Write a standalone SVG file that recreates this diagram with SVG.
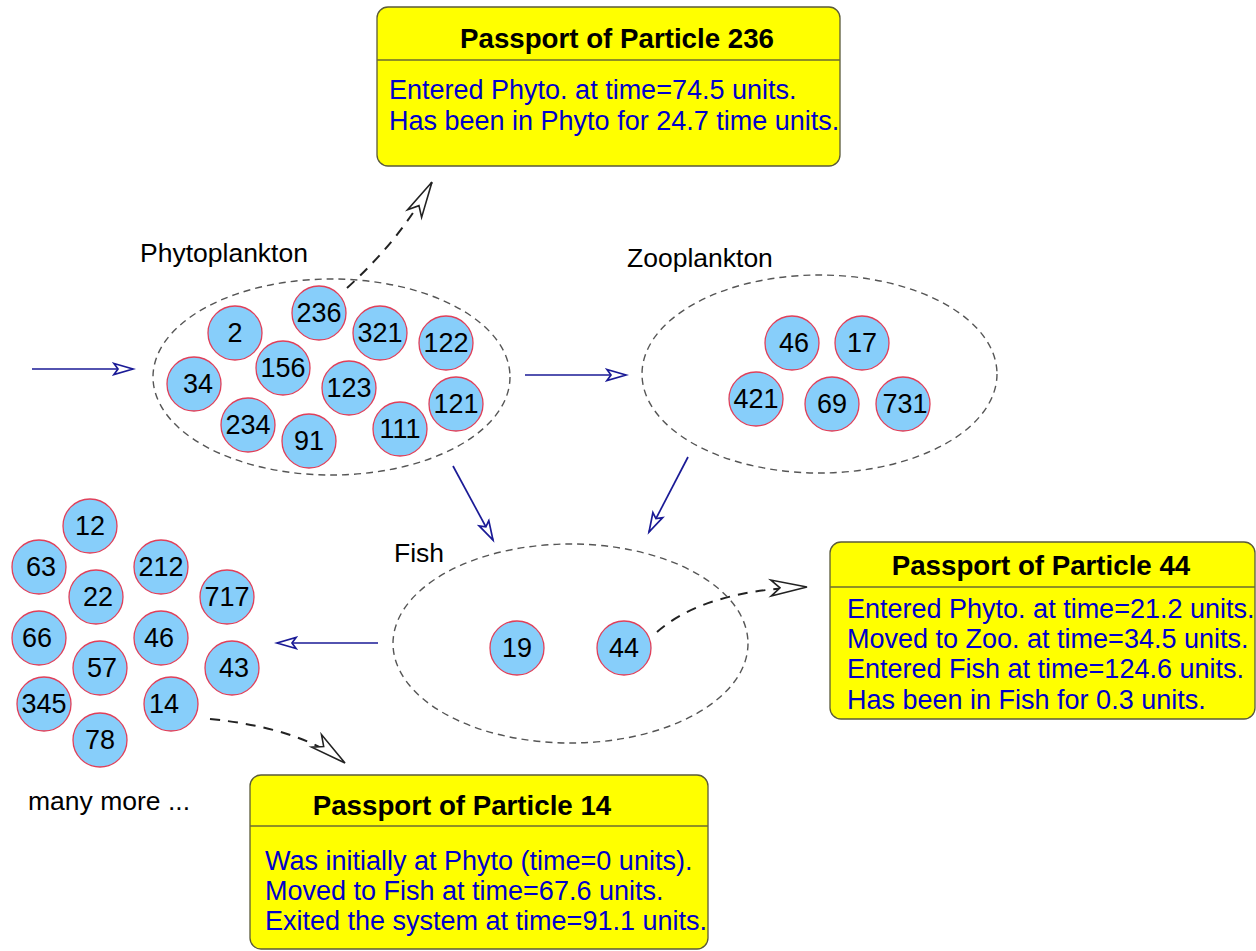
<svg xmlns="http://www.w3.org/2000/svg" width="1256" height="951" viewBox="0 0 1256 951">
<style>
.bg{fill:#ffffff}
.box{fill:#ffff00;stroke:#5a5a3a;stroke-width:1.3}
.div{stroke:#6b6b30;stroke-width:1.3}
.title{font-family:"Liberation Sans",Arial,sans-serif;font-weight:bold;font-size:27.7px;fill:#000;text-anchor:middle}
.body{font-family:"Liberation Sans",Arial,sans-serif;font-size:27px;fill:#0000cc}
.lbl{font-family:"Liberation Sans",Arial,sans-serif;font-size:26.5px;fill:#000}
.comp{fill:none;stroke:#555;stroke-width:1.4;stroke-dasharray:7 5}
.pc{fill:#87cefa;stroke:#e0405a;stroke-width:1.3}
.pt{font-family:"Liberation Sans",Arial,sans-serif;font-size:27px;fill:#000;text-anchor:middle}
.flow{fill:none;stroke:#1a1a96;stroke-width:1.7;marker-end:url(#blueHead)}
.link{fill:none;stroke:#222;stroke-width:2;stroke-dasharray:10 8;marker-end:url(#blackHead)}
</style>
<defs>
<marker id="blueHead" markerWidth="24" markerHeight="16" refX="21" refY="8" orient="auto" markerUnits="userSpaceOnUse">
<path d="M2,2.5 L21,8 L2,13.5 L6,8 Z" fill="#ffffff" stroke="#1a1a96" stroke-width="1.7" stroke-dasharray="none"/>
</marker>
<marker id="blackHead" markerWidth="42" markerHeight="22" refX="39" refY="11" orient="auto" markerUnits="userSpaceOnUse">
<path d="M39,11 L3,3 L12,11 L3,19 Z" fill="#ffffff" stroke="#222" stroke-width="1.6" stroke-dasharray="none"/>
</marker>
</defs>
<rect class="bg" x="0" y="0" width="1256" height="951"/>

<g id="connectors">
<line class="flow" x1="32" y1="369" x2="133" y2="369"/>
<line class="flow" x1="525" y1="375" x2="626" y2="375"/>
<line class="flow" x1="453" y1="466" x2="493" y2="540"/>
<line class="flow" x1="688" y1="457" x2="649" y2="532"/>
<line class="flow" x1="378" y1="643" x2="277" y2="643"/>
<path class="link" d="M347,288 Q400,240 432,182"/>
<path class="link" d="M657,632 Q705,590 807,587"/>
<path class="link" d="M210,719 Q300,728 345,763"/>
</g>

<g id="phytoplankton">
<ellipse class="comp" cx="331.5" cy="377" rx="178.5" ry="98"/>
<text class="lbl" x="140" y="262">Phytoplankton</text>
</g>
<g id="zooplankton">
<ellipse class="comp" cx="819.5" cy="374" rx="177.5" ry="99"/>
<text class="lbl" x="627" y="267">Zooplankton</text>
</g>
<g id="fish">
<ellipse class="comp" cx="570.5" cy="643.5" rx="177.5" ry="99.5"/>
<text class="lbl" x="394" y="562">Fish</text>
</g>
<g id="exited">
<text class="lbl" x="28" y="810">many more ...</text>
</g>

<g id="p-2"><circle class="pc" cx="235" cy="333" r="27"/><text class="pt" x="235" y="342">2</text></g>
<g id="p-236"><circle class="pc" cx="319" cy="313" r="27"/><text class="pt" x="319" y="322">236</text></g>
<g id="p-321"><circle class="pc" cx="380" cy="333" r="27"/><text class="pt" x="380" y="342">321</text></g>
<g id="p-122"><circle class="pc" cx="446" cy="343" r="27"/><text class="pt" x="446" y="352">122</text></g>
<g id="p-34"><circle class="pc" cx="194" cy="384" r="27"/><text class="pt" x="198" y="393">34</text></g>
<g id="p-156"><circle class="pc" cx="283" cy="368" r="27"/><text class="pt" x="283" y="377">156</text></g>
<g id="p-123"><circle class="pc" cx="349" cy="388" r="27"/><text class="pt" x="349" y="397">123</text></g>
<g id="p-121"><circle class="pc" cx="456" cy="404" r="27"/><text class="pt" x="456" y="413">121</text></g>
<g id="p-234"><circle class="pc" cx="248" cy="425" r="27"/><text class="pt" x="248" y="434">234</text></g>
<g id="p-91"><circle class="pc" cx="309" cy="441" r="27"/><text class="pt" x="309" y="450">91</text></g>
<g id="p-111"><circle class="pc" cx="400" cy="429" r="27"/><text class="pt" x="400" y="438">111</text></g>

<g id="zoo-46"><circle class="pc" cx="792" cy="343" r="27"/><text class="pt" x="794" y="352">46</text></g>
<g id="zoo-17"><circle class="pc" cx="862" cy="343" r="27"/><text class="pt" x="862" y="352">17</text></g>
<g id="zoo-421"><circle class="pc" cx="756" cy="399" r="27"/><text class="pt" x="756" y="408">421</text></g>
<g id="zoo-69"><circle class="pc" cx="832" cy="404" r="27"/><text class="pt" x="832" y="413">69</text></g>
<g id="zoo-731"><circle class="pc" cx="903" cy="404" r="27"/><text class="pt" x="905" y="413">731</text></g>

<g id="fish-19"><circle class="pc" cx="517" cy="648" r="27"/><text class="pt" x="517" y="657">19</text></g>
<g id="fish-44"><circle class="pc" cx="624" cy="648" r="27"/><text class="pt" x="624" y="657">44</text></g>

<g id="out-12"><circle class="pc" cx="90" cy="526" r="27"/><text class="pt" x="90" y="535">12</text></g>
<g id="out-63"><circle class="pc" cx="39" cy="567" r="27"/><text class="pt" x="41" y="576">63</text></g>
<g id="out-212"><circle class="pc" cx="161" cy="567" r="27"/><text class="pt" x="161" y="576">212</text></g>
<g id="out-22"><circle class="pc" cx="96" cy="597" r="27"/><text class="pt" x="98" y="606">22</text></g>
<g id="out-717"><circle class="pc" cx="227" cy="597" r="27"/><text class="pt" x="227" y="606">717</text></g>
<g id="out-66"><circle class="pc" cx="39" cy="638" r="27"/><text class="pt" x="37" y="647">66</text></g>
<g id="out-46"><circle class="pc" cx="161" cy="638" r="27"/><text class="pt" x="159" y="647">46</text></g>
<g id="out-57"><circle class="pc" cx="100" cy="668" r="27"/><text class="pt" x="102" y="677">57</text></g>
<g id="out-43"><circle class="pc" cx="232" cy="668" r="27"/><text class="pt" x="234" y="677">43</text></g>
<g id="out-345"><circle class="pc" cx="44" cy="704" r="27"/><text class="pt" x="44" y="713">345</text></g>
<g id="out-14"><circle class="pc" cx="171" cy="704" r="27"/><text class="pt" x="164" y="713">14</text></g>
<g id="out-78"><circle class="pc" cx="100" cy="740" r="27"/><text class="pt" x="100" y="749">78</text></g>

<g id="passport-236">
<rect class="box" x="377" y="7" width="463" height="159" rx="11" ry="11"/>
<line class="div" x1="377" y1="60" x2="840" y2="60"/>
<text class="title" x="617" y="48">Passport of Particle 236</text>
<text class="body" x="389" y="99">Entered Phyto. at time=74.5 units.</text>
<text class="body" x="389" y="130">Has been in Phyto for 24.7 time units.</text>
</g>

<g id="passport-44">
<rect class="box" x="830" y="542" width="425" height="177" rx="11" ry="11"/>
<line class="div" x1="830" y1="587" x2="1255" y2="587"/>
<text class="title" x="1041" y="575">Passport of Particle 44</text>
<text class="body" x="847" y="618">Entered Phyto. at time=21.2 units.</text>
<text class="body" x="847" y="648">Moved to Zoo. at time=34.5 units.</text>
<text class="body" x="847" y="678">Entered Fish at time=124.6 units.</text>
<text class="body" x="847" y="709">Has been in Fish for 0.3 units.</text>
</g>

<g id="passport-14">
<rect class="box" x="250" y="775" width="458" height="174" rx="11" ry="11"/>
<line class="div" x1="250" y1="826" x2="708" y2="826"/>
<text class="title" x="462" y="815">Passport of Particle 14</text>
<text class="body" x="265" y="870">Was initially at Phyto (time=0 units).</text>
<text class="body" x="265" y="900">Moved to Fish at time=67.6 units.</text>
<text class="body" x="265" y="930">Exited the system at time=91.1 units.</text>
</g>
</svg>
